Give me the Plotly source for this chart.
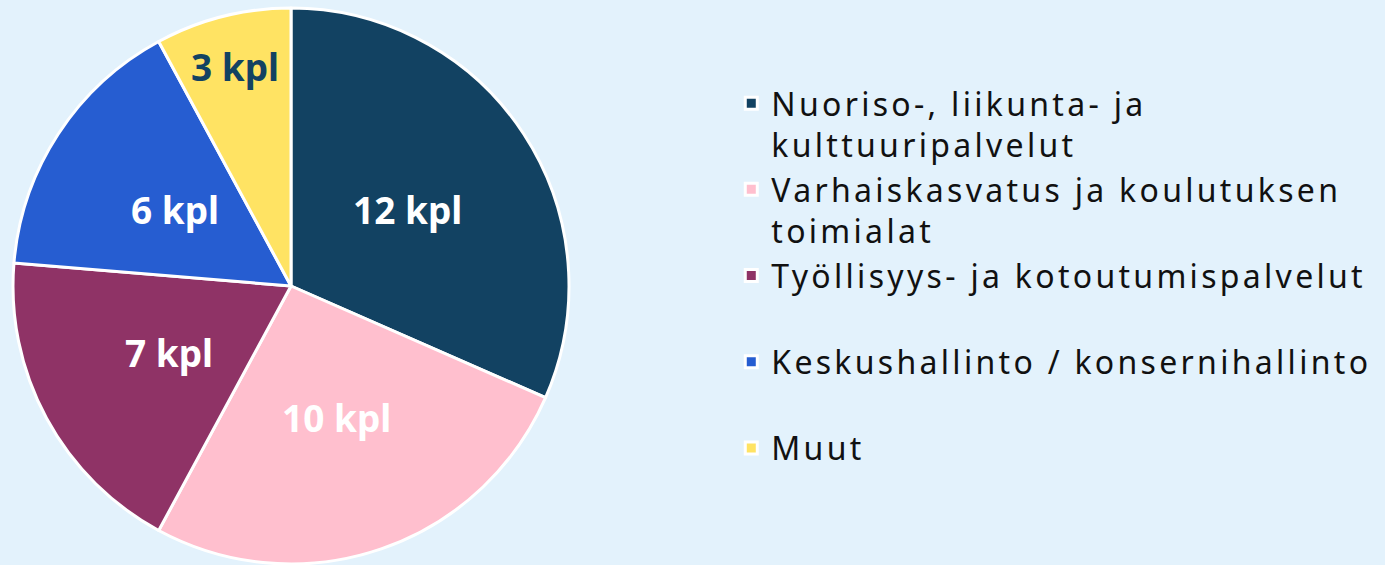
import math
import plotly.graph_objects as go

categories = [
    ["Nuoriso-, liikunta- ja", "kulttuuripalvelut"],
    ["Varhaiskasvatus ja koulutuksen", "toimialat"],
    ["Työllisyys- ja kotoutumispalvelut", " "],
    ["Keskushallinto / konsernihallinto", " "],
    ["Muut", " "],
]
values = [12, 10, 7, 6, 3]
value_labels = [f"{v} kpl" for v in values]
colors = ["#124262", "#FFBFCE", "#8F3366", "#265DD1", "#FFE363"]
text_colors = ["#FFFFFF", "#FFFFFF", "#FFFFFF", "#FFFFFF", "#124262"]
label_radius = [0.5, 0.5, 0.5, 0.5, 0.815]  # style: radial position of labels

W, H = 1385, 565
mt, mb = 8, 1
cx, r = 291, 278
cy = mt + r

spacing = '<span style="letter-spacing:3.3px">{}</span>'
legend_labels = ["<br>".join(spacing.format(line) for line in lines) for lines in categories]

fig = go.Figure(go.Pie(
    labels=legend_labels,
    values=values,
    sort=False,
    direction="clockwise",
    rotation=0,
    marker=dict(colors=colors, line=dict(color="#FFFFFF", width=3)),
    textinfo="none",
    hoverinfo="value",
    domain=dict(x=[(cx - r) / W, (cx + r) / W], y=[0, 1]),
))

# value labels placed at the angular middle of each slice
total = sum(values)
cum = 0
ph = H - mt - mb
for v, t, c, f in zip(values, value_labels, text_colors, label_radius):
    mid = (cum + v / 2) / total * 2 * math.pi
    cum += v
    px = cx + f * r * math.sin(mid)
    py = cy - f * r * math.cos(mid)
    fig.add_annotation(
        x=px / W, y=(H - mb - py) / ph, xref="paper", yref="paper",
        text=t, showarrow=False, xanchor="center", yanchor="middle",
        font=dict(family="Noto Sans", size=37, color=c, weight="bold"),
    )

fig.update_layout(
    width=W, height=H,
    margin=dict(l=0, r=0, t=mt, b=mb),
    paper_bgcolor="#E3F2FC",
    plot_bgcolor="#E3F2FC",
    showlegend=True,
    legend=dict(
        x=0.528, xanchor="left",
        y=0.878, yanchor="top",
        valign="top",
        font=dict(family="Noto Sans", size=32, color="#111111"),
        bgcolor="rgba(0,0,0,0)",
        itemclick=False,
    ),
)

fig.write_html("out.html")
